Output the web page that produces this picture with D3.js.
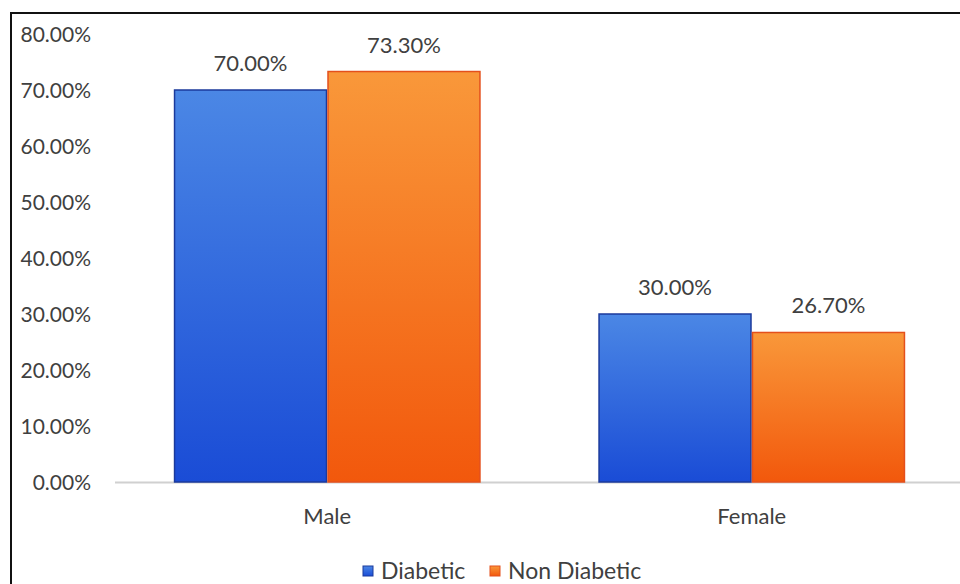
<!DOCTYPE html>
<html>
<head>
<meta charset="utf-8">
<script src="https://cdn.jsdelivr.net/npm/d3@7"></script>
<style>
  html, body { margin: 0; padding: 0; background: #fff; }
  svg { display: block; }
  text { font-family: Lato, "Open Sans", sans-serif; fill: #404040; }
</style>
</head>
<body>
<svg id="chart" width="960" height="584"></svg>
<script>
// Share of patients by gender
const categories = ["Male", "Female"];
const seriesNames = ["Diabetic", "Non Diabetic"];
const diabetic = [70.0, 30.0];
const nonDiabetic = [73.3, 26.7];
const yTicks = [0, 10, 20, 30, 40, 50, 60, 70, 80];

const svg = d3.select("#chart");
const W = 960, H = 584;

// outer frame
svg.append("rect")
  .attr("x", 11).attr("y", 13)
  .attr("width", W).attr("height", H)
  .attr("fill", "none").attr("stroke", "#111").attr("stroke-width", 2);

const plot = { left: 115, right: 964, top: 34, bottom: 482 };

const x0 = d3.scaleBand().domain(categories)
  .range([plot.left, plot.right]).paddingInner(0.277).paddingOuter(0.1385);
const x1 = d3.scaleBand().domain(seriesNames).range([0, x0.bandwidth()]);
const y = d3.scaleLinear().domain([0, 80]).range([plot.bottom, plot.top]);

// gradients
const defs = svg.append("defs");
const grads = [
  { id: "gBlue", top: "#4b87e5", bottom: "#1a4cd6" },
  { id: "gOrange", top: "#f9983a", bottom: "#f2580c" }
];
grads.forEach(g => {
  const lg = defs.append("linearGradient").attr("id", g.id)
    .attr("x1", 0).attr("y1", 0).attr("x2", 0).attr("y2", 1);
  lg.append("stop").attr("offset", "0%").attr("stop-color", g.top);
  lg.append("stop").attr("offset", "100%").attr("stop-color", g.bottom);
});
const fills = { "Diabetic": "url(#gBlue)", "Non Diabetic": "url(#gOrange)" };
const strokes = { "Diabetic": "#1b3a9c", "Non Diabetic": "#e4501c" };

// y axis labels
const yAxis = d3.axisLeft(y).tickValues(yTicks)
  .tickFormat(d => d3.format(".2f")(d) + "%").tickSize(0).tickPadding(0);
const yG = svg.append("g").attr("transform", `translate(91,0)`).call(yAxis);
yG.select(".domain").remove();
yG.selectAll("text").style("font-size", "21px").attr("fill", "#404040")
  .style("font-family", "Lato, sans-serif").attr("dy", "0.36em");

// baseline
svg.append("line")
  .attr("x1", plot.left).attr("x2", 960)
  .attr("y1", y(0) + 0.5).attr("y2", y(0) + 0.5)
  .attr("stroke", "#d0d0d0").attr("stroke-width", 2);

// x axis labels
const xAxis = d3.axisBottom(x0).tickSize(0).tickPadding(0);
const xG = svg.append("g").attr("transform", `translate(0,${y(0) + 42})`).call(xAxis);
xG.select(".domain").remove();
xG.selectAll("text").style("font-size", "22px").attr("fill", "#404040")
  .style("font-family", "Lato, sans-serif").attr("dy", "0");

// bars
const rows = categories.map((c, i) => ({
  cat: c,
  vals: [{ s: "Diabetic", v: diabetic[i] }, { s: "Non Diabetic", v: nonDiabetic[i] }]
}));
const groups = svg.selectAll("g.grp").data(rows).join("g")
  .attr("class", "grp")
  .attr("transform", d => `translate(${x0(d.cat)},0)`);

groups.selectAll("rect").data(d => d.vals).join("rect")
  .attr("x", d => x1(d.s) + 0.75)
  .attr("y", d => y(d.v))
  .attr("width", x1.bandwidth() - 1.5)
  .attr("height", d => y(0) - y(d.v))
  .attr("fill", d => fills[d.s])
  .attr("stroke", d => strokes[d.s]).attr("stroke-width", 1.5);

groups.selectAll("text.val").data(d => d.vals).join("text")
  .attr("class", "val")
  .attr("x", d => x1(d.s) + x1.bandwidth() / 2)
  .attr("y", d => y(d.v) - 19)
  .attr("text-anchor", "middle")
  .style("font-size", "22px")
  .text(d => d3.format(".2f")(d.v) + "%");

// legend
const legend = svg.append("g").attr("transform", "translate(0,571)");
const legendItems = [
  { s: "Diabetic", x: 363 },
  { s: "Non Diabetic", x: 490 }
];
legendItems.forEach(it => {
  legend.append("rect").attr("x", it.x).attr("y", -5).attr("width", 10).attr("height", 10)
    .attr("fill", fills[it.s]).attr("stroke", strokes[it.s]).attr("stroke-width", 1);
  legend.append("text").attr("x", it.x + 18).attr("y", 0).attr("dy", "0.36em")
    .style("font-size", "23px").text(it.s);
});
</script>
</body>
</html>
